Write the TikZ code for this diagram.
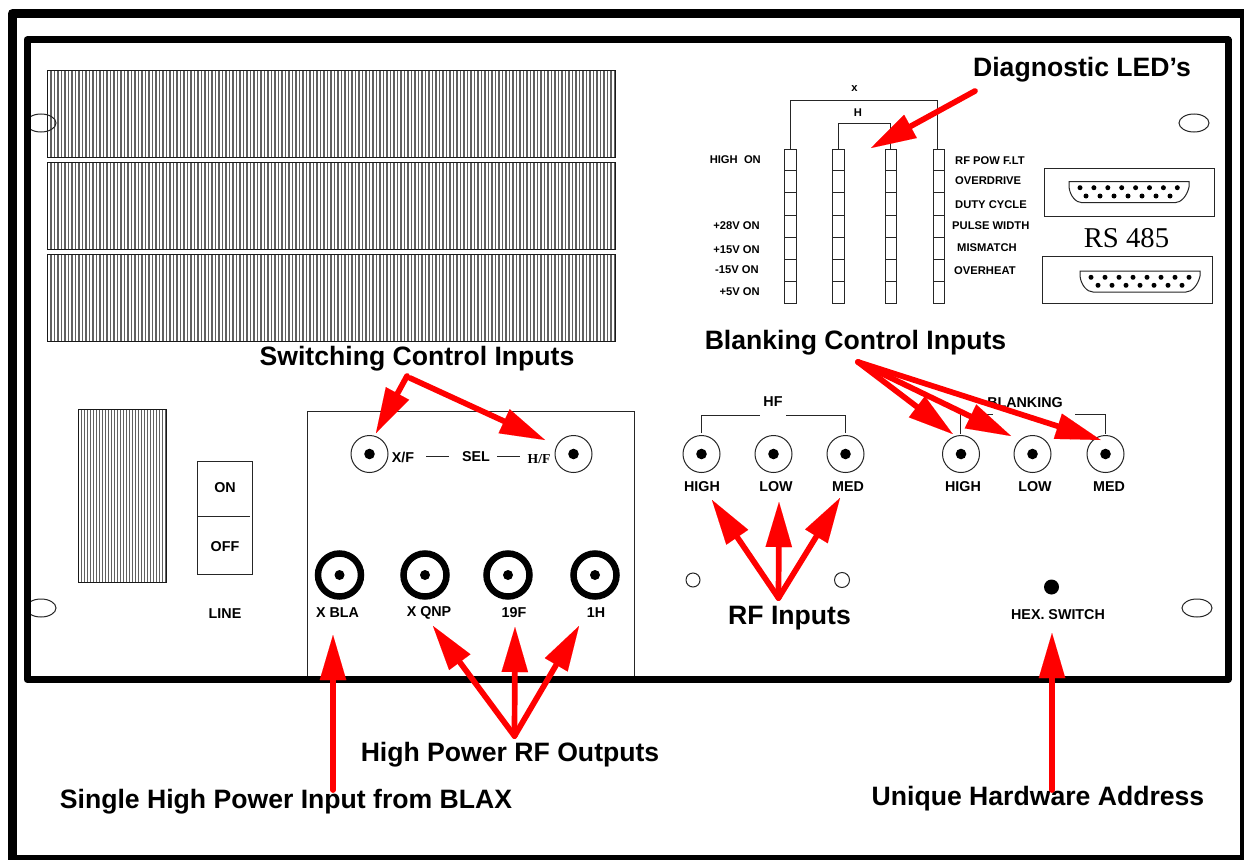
\documentclass[tikz,border=0pt]{standalone}
\usepackage{fontspec}
\setmainfont{Liberation Sans}
\newfontfamily\serifface{Liberation Serif}
\usetikzlibrary{arrows.meta,shapes.geometric}
\tikzset{
  head/.style={inner sep=0pt,yshift=-3pt,font=\fontsize{26.6}{30}\selectfont\bfseries},
  lab/.style={inner sep=0pt,yshift=-1pt,font=\fontsize{14.3}{16}\selectfont\bfseries},
  tiny/.style={inner sep=0pt,yshift=-1pt,font=\fontsize{11.2}{13}\selectfont\bfseries},
  thinline/.style={line width=1pt,draw=black!85},
  box/.style={line width=1pt,draw=black!85},
  jack/.style={circle,draw=black!85,line width=1pt,minimum size=37pt,inner sep=0pt,
    path picture={\fill[black] (path picture bounding box.center) circle (5.3pt);}},
  bigjack/.style={circle,draw=black,line width=6.5pt,minimum size=43pt,inner sep=0pt,
    path picture={\fill[black] (path picture bounding box.center) circle (5pt);}},
  hole/.style={ellipse,draw=black!85,line width=1pt,fill=none,minimum width=30pt,minimum height=18pt,inner sep=0pt},
  redarrow/.style={draw=red,line width=5.7pt,line cap=round,-{Triangle[length=45pt,width=26.5pt,line width=0.01pt]}},
  grill/.style={draw=black!62,line width=1.6pt},
  frame/.style={draw=black,line join=round}
}
\newcommand{\grille}[5]{%
  \foreach \gx in {#1,#5,...,#3}{\draw[grill] (\gx,#2) -- (\gx,#4);}
  \draw[line width=1pt,draw=black!90] (#1,#2) rectangle (#3,#4);}
\begin{document}
\begin{tikzpicture}[x=1pt,y=-1pt]
\useasboundingbox (0,0) rectangle (1244,859);
\fill[white] (0,0) rectangle (1244,859);
% grilles
\grille{47.5}{70}{615}{157}{51}
\grille{47.5}{162}{615}{249}{51}
\grille{47.5}{254}{615}{341}{51}
\grille{78.5}{409}{166}{582}{81.5}
% mounting holes
\node[hole] (h1) at (41,123) {};
\node[hole] (h2) at (1194,123) {};
\node[hole] (h3) at (41,608) {};
\node[hole] (h4) at (1197,608) {};
% frames
\draw[frame,line width=9pt] (12.5,13.5) rectangle (1244.5,859.5);
% power switch
\draw[box] (197,461) rectangle (252,574);
\draw[box] (198,516) -- (250,516);
\node[lab] (on) at (225,487) {ON};
\node[lab] (off) at (225,546) {OFF};
\node[lab] (line) at (225,613) {LINE};
% panel
\draw[box] (307.5,678) -- (307.5,411) -- (634,411) -- (634,678);
\node[jack] (jxf) at (369.5,454) {};
\node[jack] (jhf) at (573.5,454) {};
\node[lab] (xf) at (403,456) {X/F};
\node[lab] (sel) at (476,456) {SEL};
\node[inner sep=0pt,font=\fontsize{13.7}{15}\selectfont\serifface\bfseries] (hf) at (539,459) {H/F};
\draw[thinline] (426,456) -- (449,456);
\draw[thinline] (497,456) -- (520,456);
\node[bigjack] (bj1) at (339.5,575) {};
\node[bigjack] (bj2) at (425,575) {};
\node[bigjack] (bj3) at (508,575) {};
\node[bigjack] (bj4) at (595,575) {};
\node[lab] (lb1) at (337.5,612) {X BLA};
\node[lab] (lb2) at (429,612) {X QNP};
\node[lab] (lb3) at (514,612) {19F};
\node[lab] (lb4) at (596,612) {1H};
% HF
\node[jack] (hf1) at (701.5,454) {};
\node[jack] (hf2) at (773.5,454) {};
\node[jack] (hf3) at (845.5,454) {};
\node[lab] (hft) at (773,401) {HF};
\draw[thinline] (701.5,433) -- (701.5,415) -- (760,415);
\draw[thinline] (786,415) -- (845,415) -- (845,433);
\node[lab] (hfl1) at (702,486) {HIGH};
\node[lab] (hfl2) at (776,486) {LOW};
\node[lab] (hfl3) at (848,486) {MED};
\node[circle,draw=black!85,line width=1pt,minimum size=14pt,inner sep=0pt] (s1) at (693,580) {};
\node[circle,draw=black!85,line width=1pt,minimum size=15pt,inner sep=0pt] (s2) at (842,580) {};
% Blanking
\node[jack] (b1) at (961,454) {};
\node[jack] (b2) at (1032.5,454) {};
\node[jack] (b3) at (1105.5,454) {};
\node[lab] (blt) at (1025,402) {BLANKING};
\draw[thinline] (960,434) -- (960,414) -- (993,414);
\draw[thinline] (1075,414) -- (1105.5,414) -- (1105.5,434);
\node[lab] (bl1) at (963,486) {HIGH};
\node[lab] (bl2) at (1035,486) {LOW};
\node[lab] (bl3) at (1109,486) {MED};
\node[circle,fill=black,minimum size=15pt,inner sep=0pt] (hex) at (1051.5,587) {};
\node[lab] (hexl) at (1058,614) {HEX. SWITCH};
% LED columns
\foreach \xa/\xb in {784/796,832/844,885/896,933/944}{
  \draw[box] (\xa,149) rectangle (\xb,303);
  \foreach \yy in {170,192,215,237,259,281}{\draw[box] (\xa,\yy) -- (\xb,\yy);}
}
\draw[thinline] (790,149) -- (790,100) -- (937.5,100) -- (937.5,149);
\draw[thinline] (838,149) -- (838,123.5) -- (890,123.5) -- (890,149);
\node[tiny] (lx) at (854.5,88) {x};
\node[tiny] (lh) at (858,112) {H};
\node[tiny,anchor=east] (l1) at (761,159) {HIGH\ \ ON};
\node[tiny,anchor=east] (l2) at (760,225) {+28V ON};
\node[tiny,anchor=east] (l3) at (760,249) {+15V ON};
\node[tiny,anchor=east] (l4) at (759,269) {-15V ON};
\node[tiny,anchor=east] (l5) at (760,291) {+5V ON};
\node[tiny,anchor=west] (r1) at (955,160) {RF POW F.LT};
\node[tiny,anchor=west] (r2) at (955,180) {OVERDRIVE};
\node[tiny,anchor=west] (r3) at (955,204) {DUTY CYCLE};
\node[tiny,anchor=west] (r4) at (952,225) {PULSE WIDTH};
\node[tiny,anchor=west] (r5) at (957,247) {MISMATCH};
\node[tiny,anchor=west] (r6) at (954,270) {OVERHEAT};
% RS 485
\draw[box] (1044,168.5) rectangle (1214,216);
\draw[box] (1042.5,256.5) rectangle (1212,303);
\node[inner sep=0pt,font=\fontsize{28.7}{32}\selectfont\serifface] (rs) at (1126.5,238) {RS 485};
\draw[box] (1069,181.7) -- (1189,181.7) -- (1189,187) .. controls (1187,196) and (1181,202.7) .. (1175,202.7) -- (1082,202.7) .. controls (1076,202.7) and (1070,196) .. (1069,187) -- cycle;
\foreach \k in {0,...,7}{\fill (1080+\k*13.9,187.7) circle (2.5pt);}
\foreach \k in {0,...,6}{\fill (1086+\k*14,196) circle (2.5pt);}
\draw[box] (1080,271) -- (1200,271) -- (1200,276) .. controls (1198,285) and (1192,292) .. (1186,292) -- (1093,292) .. controls (1087,292) and (1081,285) .. (1080,276) -- cycle;
\foreach \k in {0,...,7}{\fill (1091+\k*14,277.3) circle (2.5pt);}
\foreach \k in {0,...,6}{\fill (1098+\k*14,285.3) circle (2.5pt);}
% inner frame
\draw[frame,line width=7pt] (27,40) rectangle (1228,679.5);
% headings
\node[head] (diag) at (1082,67) {Diagnostic LED’s};
\node[head] (swit) at (417,356) {Switching Control Inputs};
\node[head] (blan) at (855.5,340) {Blanking Control Inputs};
\node[head] (rfin) at (789.5,615) {RF Inputs};
\node[head] (hpo) at (510,752) {High Power RF Outputs};
\node[head] (sing) at (286,799) {Single High Power Input from BLAX};
\node[head] (uniq) at (1038,796) {Unique Hardware Address};
% arrow ends
\coordinate (a0) at (975,91);  \coordinate (a1) at (871,148);
\coordinate (b0) at (407,376); \coordinate (b1) at (376,433);
\coordinate (c0) at (410,378); \coordinate (c1) at (545,440);
\coordinate (d0) at (858,362); \coordinate (d1) at (952.7,434);
\coordinate (d2) at (1011,436); \coordinate (d3) at (1100.7,440);
\coordinate (e0) at (778.5,598); \coordinate (e1) at (712,500);
\coordinate (e2) at (779,502); \coordinate (e3) at (840,498);
\coordinate (f0) at (514.5,736); \coordinate (f1) at (433,626);
\coordinate (f2) at (515,627); \coordinate (f3) at (579,626);
\coordinate (g0) at (333,790); \coordinate (g1) at (333,635);
\coordinate (k0) at (1052,790); \coordinate (k1) at (1052,633);
\draw[redarrow] (a0) -- (a1);
\draw[redarrow] (b0) -- (b1);
\draw[redarrow] (c0) -- (c1);
\draw[redarrow] (d0) -- (d1);
\draw[redarrow] (d0) -- (d2);
\draw[redarrow] (d0) -- (d3);
\draw[redarrow] (e0) -- (e1);
\draw[redarrow] (e0) -- (e2);
\draw[redarrow] (e0) -- (e3);
\draw[redarrow] (f0) -- (f1);
\draw[redarrow] (f0) -- (f2);
\draw[redarrow] (f0) -- (f3);
\draw[redarrow] (g0) -- (g1);
\draw[redarrow] (k0) -- (k1);
\end{tikzpicture}
\end{document}
